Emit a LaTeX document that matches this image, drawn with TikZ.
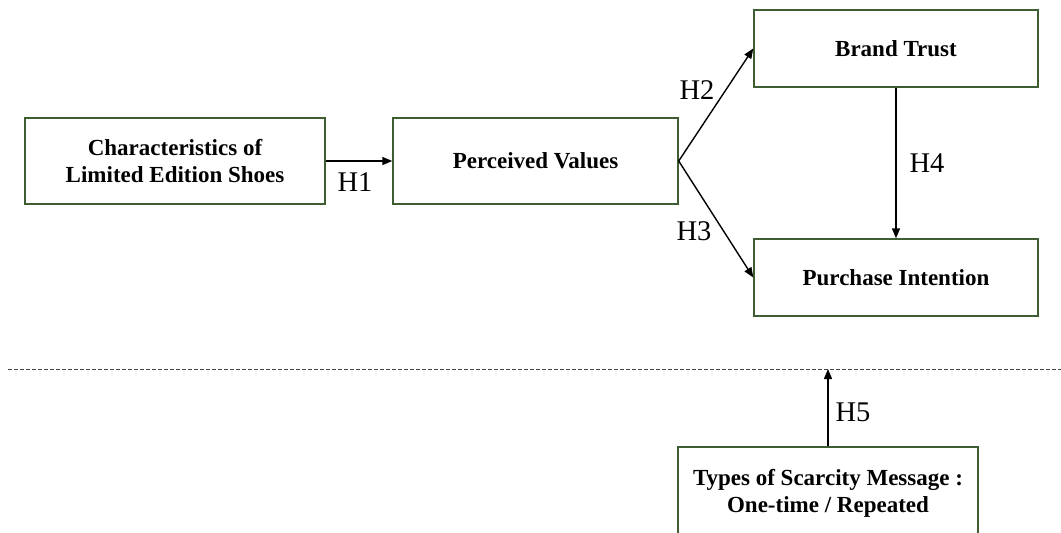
\documentclass[tikz,border=0pt]{standalone}
\usepackage{fontspec}
\setmainfont{Liberation Serif}
\usetikzlibrary{arrows.meta}
\definecolor{boxgreen}{RGB}{62,94,50}
\definecolor{dashgray}{RGB}{70,70,70}
\begin{document}
\begin{tikzpicture}[x=1pt,y=-1pt,
  box/.style={draw=boxgreen,line width=1.4pt,fill=white,align=center,
    font=\fontsize{23}{27.5}\selectfont\bfseries,inner sep=0pt},
  link/.style={line width=1.4pt,-{Triangle[length=10pt,width=8pt]}},
  hlabel/.style={font=\fontsize{28.5}{32}\selectfont,inner sep=0pt}]
\useasboundingbox (0,0) rectangle (1061,533);
\node[box,minimum width=300pt,minimum height=86pt] (chars) at (175,161)
  {Characteristics of\\Limited Edition Shoes};
\node[box,minimum width=285pt,minimum height=86pt] (pv) at (535.5,161)
  {Perceived Values};
\node[box,minimum width=284pt,minimum height=77pt] (bt) at (896,48.5)
  {Brand Trust};
\node[box,minimum width=284pt,minimum height=77pt] (pi) at (896,277.5)
  {Purchase Intention};
\node[box,minimum width=300pt,minimum height=93pt] (sm) at (828,493.5)
  {Types of Scarcity Message :\\One-time / Repeated};
\coordinate (dl) at (8,369);
\coordinate (dr) at (1061,369);
\coordinate (mod) at (sm.north |- dl);
\draw[dashgray,line width=1pt,dash pattern=on 4pt off 2pt] (dl) -- (dr);
\draw[link] (chars.east) -- (pv.west);
\draw[link] (pv.east) -- (bt.west);
\draw[link] (pv.east) -- (pi.west);
\draw[link] (bt.south) -- (pi.north);
\draw[link] (sm.north) -- (mod);
\node[hlabel] (h1) at (355,182) {H1};
\node[hlabel] (h2) at (697,90) {H2};
\node[hlabel] (h3) at (694,231) {H3};
\node[hlabel] (h4) at (927,163) {H4};
\node[hlabel] (h5) at (853,412) {H5};
\end{tikzpicture}
\end{document}
